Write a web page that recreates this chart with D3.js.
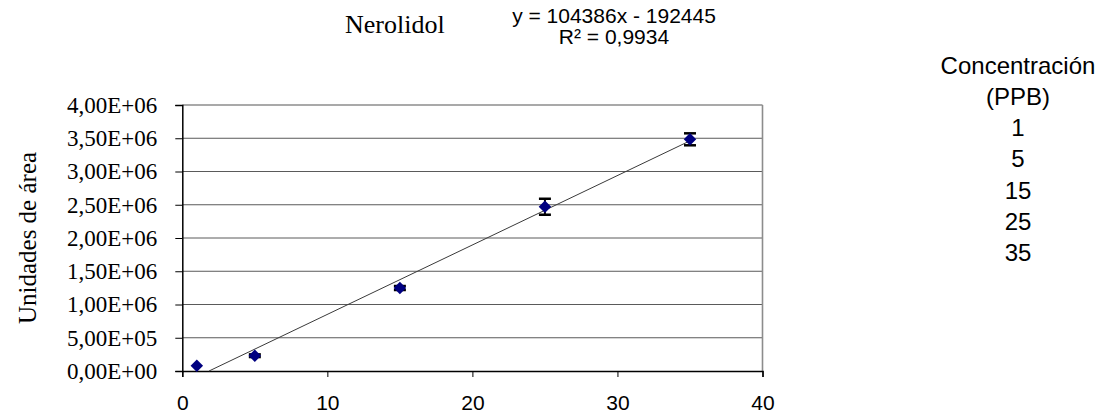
<!DOCTYPE html>
<html>
<head>
<meta charset="utf-8">
<script src="https://cdn.jsdelivr.net/npm/d3@7/dist/d3.min.js"></script>
<style>
  html, body { margin: 0; padding: 0; background: #fff; }
  svg { display: block; }
</style>
</head>
<body>
<svg id="chart" width="1109" height="415"></svg>
<script>
// Calibration data: Nerolidol
const concentrations = [1, 5, 15, 25, 35];              // PPB
const areas = [80000, 230000, 1248000, 2470000, 3484000]; // area units
const areaErrors = [0, 20000, 30000, 120000, 90000];
const fitSlope = 104386;
const fitIntercept = -192445;
const fitR2 = "0,9934";
const yTicks = [0, 500000, 1000000, 1500000, 2000000, 2500000, 3000000, 3500000, 4000000];
const xTicks = [0, 10, 20, 30, 40];

const svg = d3.select("#chart");
const serif = "'Liberation Serif', 'Times New Roman', serif";
const sans = "'Liberation Sans', Arial, sans-serif";

const x = d3.scaleLinear().domain([0, 40]).range([182.3, 762.5]);
const y = d3.scaleLinear().domain([0, 4000000]).range([371, 105]);

// Spanish-style scientific tick labels, e.g. 3,50E+06
function sci(v) {
  if (v === 0) return "0,00E+00";
  const e = Math.floor(Math.log10(v));
  const m = (v / Math.pow(10, e)).toFixed(2).replace(".", ",");
  return m + "E+" + String(e).padStart(2, "0");
}

// horizontal gridlines
svg.append("g").selectAll("line")
  .data(yTicks.filter(d => d > 0))
  .join("line")
  .attr("x1", x(0)).attr("x2", x(40))
  .attr("y1", d => y(d)).attr("y2", d => y(d))
  .attr("stroke", d => d === 4000000 ? "#8c8c8c" : "#5a5a5a")
  .attr("stroke-width", d => d === 4000000 ? 1.6 : 1);

// right border of plot area
svg.append("line")
  .attr("x1", x(40)).attr("x2", x(40))
  .attr("y1", y(4000000)).attr("y2", y(0))
  .attr("stroke", "#8c8c8c").attr("stroke-width", 1.6);

// y axis
const yAxis = d3.axisLeft(y).tickValues(yTicks).tickFormat(sci).tickSize(7).tickPadding(18);
const gy = svg.append("g").attr("transform", `translate(${x(0)},0)`).call(yAxis);
gy.select(".domain").attr("stroke", "#000").attr("stroke-width", 1.5);
gy.selectAll(".tick line").attr("stroke", "#000");
gy.selectAll(".tick text")
  .attr("font-family", serif).attr("font-size", 23).attr("fill", "#000");

// x axis
const xAxis = d3.axisBottom(x).tickValues(xTicks).tickSize(6).tickPadding(18);
const gx = svg.append("g").attr("transform", `translate(0,${y(0)})`).call(xAxis);
gx.select(".domain").attr("stroke", "#000").attr("stroke-width", 1.5);
gx.selectAll(".tick line").attr("stroke", "#000");
gx.selectAll(".tick text")
  .attr("font-family", sans).attr("font-size", 21).attr("fill", "#000");

// linear trend line
const x0 = -fitIntercept / fitSlope;
const x1 = d3.max(concentrations);
svg.append("line")
  .attr("x1", x(x0)).attr("y1", y(fitSlope * x0 + fitIntercept))
  .attr("x2", x(x1)).attr("y2", y(fitSlope * x1 + fitIntercept))
  .attr("stroke", "#3a3a3a").attr("stroke-width", 1);

const pts = concentrations.map((c, i) => ({ c, a: areas[i], e: areaErrors[i] }))
const withErr = pts.filter(d => d.e > 0);

// error bars
const eb = svg.append("g").attr("stroke", "#000");
eb.selectAll("line.v").data(withErr).join("line").attr("class", "v")
  .attr("x1", d => x(d.c)).attr("x2", d => x(d.c))
  .attr("y1", d => y(d.a + d.e)).attr("y2", d => y(d.a - d.e))
  .attr("stroke-width", 2);
eb.selectAll("line.t").data(withErr).join("line").attr("class", "t")
  .attr("x1", d => x(d.c) - 6).attr("x2", d => x(d.c) + 6)
  .attr("y1", d => y(d.a + d.e)).attr("y2", d => y(d.a + d.e))
  .attr("stroke-width", 2.5);
eb.selectAll("line.b").data(withErr).join("line").attr("class", "b")
  .attr("x1", d => x(d.c) - 6).attr("x2", d => x(d.c) + 6)
  .attr("y1", d => y(d.a - d.e)).attr("y2", d => y(d.a - d.e))
  .attr("stroke-width", 2.5);

// diamond markers
svg.append("g").selectAll("path").data(pts).join("path")
  .attr("d", d3.symbol(d3.symbolSquare, 78))
  .attr("transform", d => `translate(${x(d.c)},${y(d.a)}) rotate(45)`)
  .attr("fill", "#000080");

// titles
svg.append("text").text("Nerolidol")
  .attr("x", 345).attr("y", 33)
  .attr("font-family", serif).attr("font-size", 26).attr("fill", "#000");

svg.append("text")
  .attr("transform", `translate(27,${(y(0) + y(4000000)) / 2}) rotate(-90)`)
  .attr("text-anchor", "middle").attr("dominant-baseline", "central")
  .attr("font-family", serif).attr("font-size", 25).attr("fill", "#000")
  .text("Unidades de área");

// regression equation
const eq = svg.append("text").attr("text-anchor", "middle")
  .attr("font-family", sans).attr("font-size", 21).attr("fill", "#000");
eq.append("tspan").attr("x", 614).attr("y", 23)
  .text(`y = ${fitSlope}x - ${Math.abs(fitIntercept)}`);
eq.append("tspan").attr("x", 614).attr("y", 44)
  .text(`R² = ${fitR2}`);

// concentration list
const conc = ["Concentración", "(PPB)"].concat(concentrations.map(String));
svg.append("g").selectAll("text").data(conc).join("text")
  .attr("x", 1018).attr("y", (d, i) => 65 + i * 31.3)
  .attr("text-anchor", "middle").attr("dominant-baseline", "central")
  .attr("font-family", sans).attr("font-size", 24).attr("fill", "#000")
  .text(d => d);
</script>
</body>
</html>
